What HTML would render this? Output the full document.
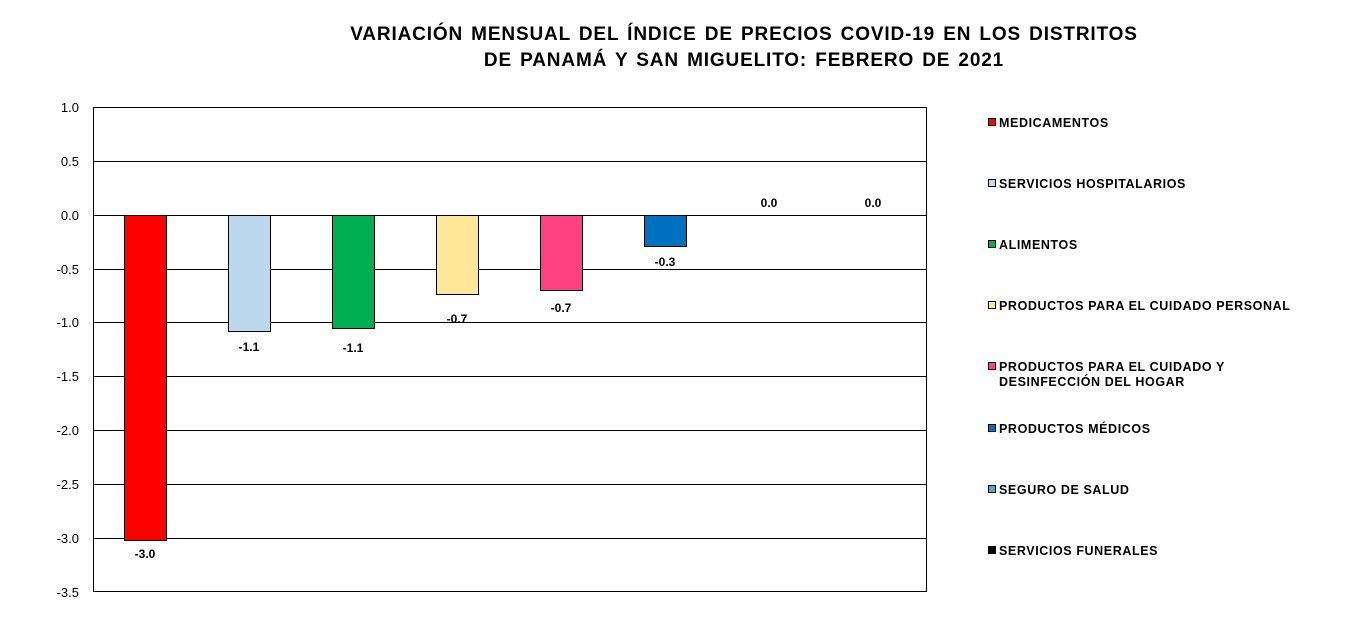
<!DOCTYPE html>
<html><head><meta charset="utf-8"><style>
html,body{margin:0;padding:0;background:#fff;}
svg{display:block;}
text{font-family:"Liberation Sans",Arial,sans-serif;}
</style></head><body>
<svg width="1354" height="623" viewBox="0 0 1354 623" xmlns="http://www.w3.org/2000/svg">
<rect width="1354" height="623" fill="#fff"/>
<text x="744" y="40" text-anchor="middle" font-size="19" font-weight="bold" letter-spacing="0.85" word-spacing="2">VARIACIÓN MENSUAL DEL ÍNDICE DE PRECIOS COVID-19 EN LOS DISTRITOS</text>
<text x="744" y="66" text-anchor="middle" font-size="19" font-weight="bold" letter-spacing="0.85" word-spacing="2">DE PANAMÁ Y SAN MIGUELITO: FEBRERO DE 2021</text>
<g stroke="#000" stroke-width="1">
<rect x="93.5" y="107.5" width="833" height="484" fill="#fff"/>
<line x1="93" y1="161.5" x2="926" y2="161.5"/>
<line x1="93" y1="215.5" x2="926" y2="215.5"/>
<line x1="93" y1="269.5" x2="926" y2="269.5"/>
<line x1="93" y1="322.5" x2="926" y2="322.5"/>
<line x1="93" y1="376.5" x2="926" y2="376.5"/>
<line x1="93" y1="430.5" x2="926" y2="430.5"/>
<line x1="93" y1="484.5" x2="926" y2="484.5"/>
<line x1="93" y1="538.5" x2="926" y2="538.5"/>
<rect x="124.5" y="215.5" width="42" height="325" fill="#ff0000"/>
<rect x="228.5" y="215.5" width="42" height="116" fill="#bdd7ee"/>
<rect x="332.5" y="215.5" width="42" height="113" fill="#00b050"/>
<rect x="436.5" y="215.5" width="42" height="79" fill="#ffe699"/>
<rect x="540.5" y="215.5" width="42" height="75" fill="#ff4081"/>
<rect x="644.5" y="215.5" width="42" height="31" fill="#0070c0"/>
</g>
<g font-size="13" text-anchor="end">
<text x="79" y="112">1.0</text>
<text x="79" y="166">0.5</text>
<text x="79" y="220">0.0</text>
<text x="79" y="274">-0.5</text>
<text x="79" y="327">-1.0</text>
<text x="79" y="381">-1.5</text>
<text x="79" y="435">-2.0</text>
<text x="79" y="489">-2.5</text>
<text x="79" y="543">-3.0</text>
<text x="79" y="597">-3.5</text>
</g>
<g font-size="12" font-weight="bold" text-anchor="middle">
<text x="145" y="558">-3.0</text>
<text x="249" y="351">-1.1</text>
<text x="353" y="352">-1.1</text>
<text x="457" y="323">-0.7</text>
<text x="561" y="312">-0.7</text>
<text x="665" y="266">-0.3</text>
<text x="769" y="207">0.0</text>
<text x="873" y="207">0.0</text>
</g>
<g stroke="#000" stroke-width="1">
<rect x="988.5" y="118.5" width="7" height="7" fill="#ff0000"/>
<rect x="988.5" y="179.5" width="7" height="7" fill="#bdd7ee"/>
<rect x="988.5" y="240.5" width="7" height="7" fill="#00b050"/>
<rect x="988.5" y="301.5" width="7" height="7" fill="#ffe699"/>
<rect x="988.5" y="362.5" width="7" height="7" fill="#ff4081"/>
<rect x="988.5" y="424.5" width="7" height="7" fill="#0070c0"/>
<rect x="988.5" y="485.5" width="7" height="7" fill="#4bacc6"/>
<rect x="988.5" y="546.5" width="7" height="7" fill="#000"/>
</g>
<g font-size="12.5" font-weight="bold" letter-spacing="0.6">
<text x="999" y="127">MEDICAMENTOS</text>
<text x="999" y="188">SERVICIOS HOSPITALARIOS</text>
<text x="999" y="249">ALIMENTOS</text>
<text x="999" y="310">PRODUCTOS PARA EL CUIDADO PERSONAL</text>
<text x="999" y="371">PRODUCTOS PARA EL CUIDADO Y</text>
<text x="999" y="386">DESINFECCIÓN DEL HOGAR</text>
<text x="999" y="433">PRODUCTOS MÉDICOS</text>
<text x="999" y="494">SEGURO DE SALUD</text>
<text x="999" y="555">SERVICIOS FUNERALES</text>
</g>
</svg>
</body></html>
